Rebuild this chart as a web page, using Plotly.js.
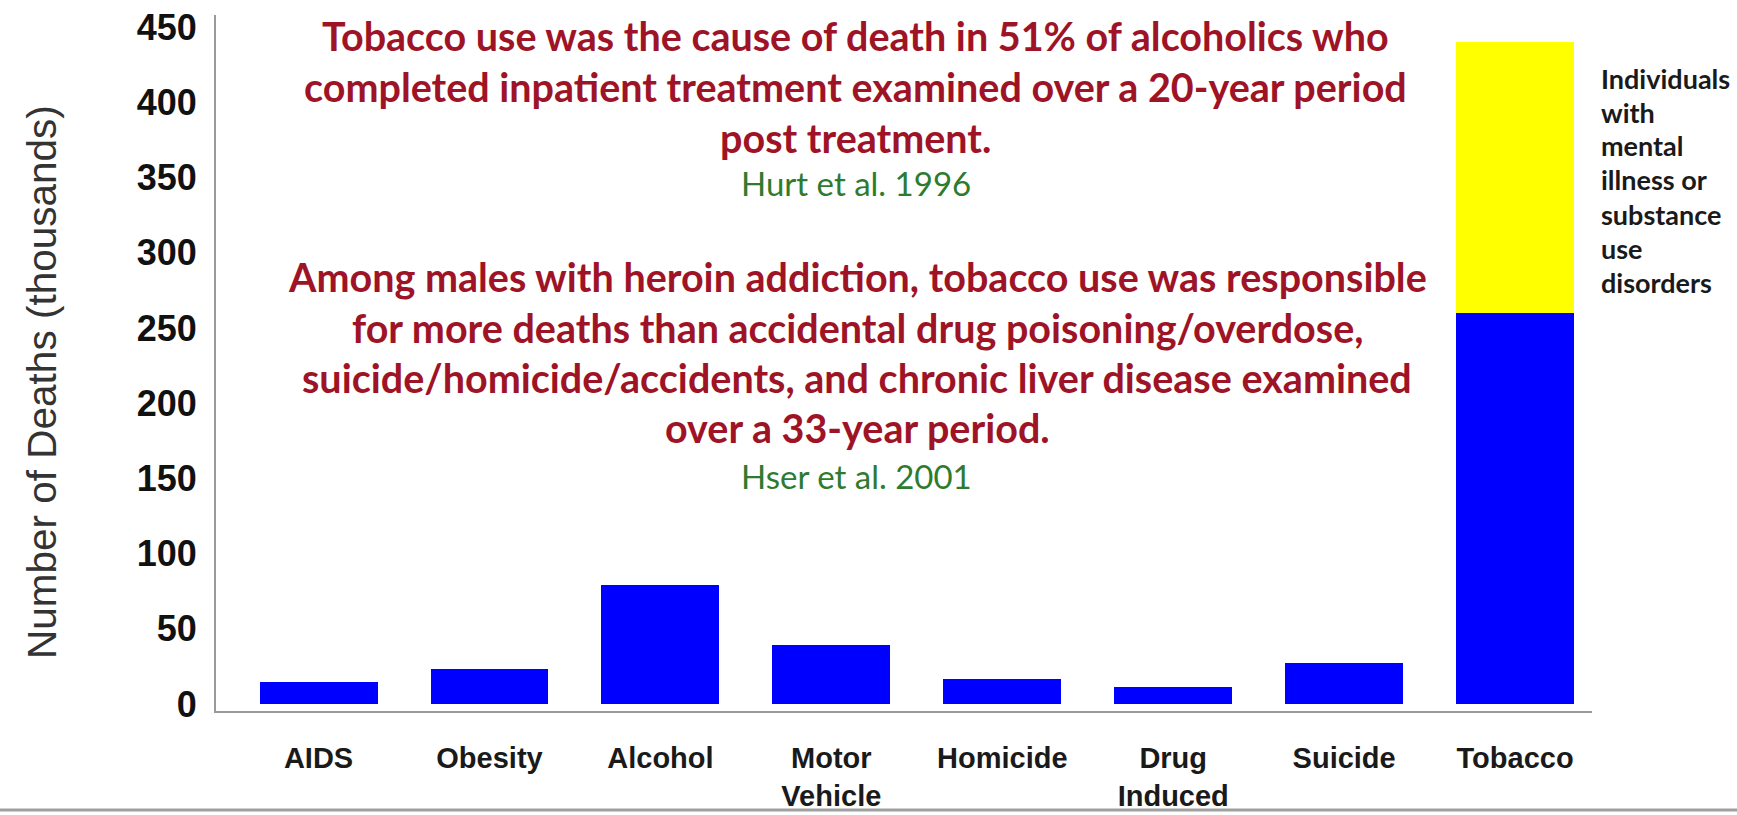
<!DOCTYPE html>
<html>
<head>
<meta charset="utf-8">
<script src="https://cdn.plot.ly/plotly-3.0.1.min.js"></script>
<style>html,body{margin:0;padding:0;background:#fff;}#chart{width:1737px;height:815px;}</style>
</head>
<body>
<div id="chart"></div>
<script>
// ---- data ----
const categories = ["AIDS", "Obesity", "Alcohol", "Motor<br>Vehicle", "Homicide", "Drug<br>Induced", "Suicide", "Tobacco"];
const deathsGeneral = [15, 23, 79, 39, 17, 11.5, 27.5, 260];
const deathsMentalIllness = [0, 0, 0, 0, 0, 0, 0, 180];
const yTickVals = [0, 50, 100, 150, 200, 250, 300, 350, 400, 450];
const yAxisTitle = "Number of Deaths (thousands)";
const note1Lines = [
  "Tobacco use was the cause of death in 51% of alcoholics who",
  "completed inpatient treatment examined over a 20-year period",
  "post treatment."
];
const note1Source = "Hurt et al. 1996";
const note2Lines = [
  "Among males with heroin addiction, tobacco use was responsible",
  "for more deaths than accidental drug poisoning/overdose,",
  "suicide/homicide/accidents, and chronic liver disease examined",
  "over a 33-year period."
];
const note2Source = "Hser et al. 2001";
const sideLabelLines = ["Individuals", "with", "mental", "illness or", "substance", "use", "disorders"];

// ---- layout helpers (pixel -> paper) ----
const W = 1737, H = 815;
const M = {l: 216, r: 145, t: 15, b: 104};
const PW = W - M.l - M.r, PH = H - M.t - M.b;
const px = x => (x - M.l) / PW;
const py = y => (H - M.b - y) / PH;

const red = "#9E1426", green = "#2E7B2E";
const annotations = [];
const note1Y = [35, 86, 137];
note1Lines.forEach((t, i) => annotations.push({text: t, x: px(855), y: py(note1Y[i])}));
annotations.push({text: note1Source, x: px(856), y: py(183), src: true});
const note2Y = [277, 327, 377, 427];
note2Lines.forEach((t, i) => annotations.push({text: t, x: px(857), y: py(note2Y[i])}));
annotations.push({text: note2Source, x: px(856), y: py(476), src: true});
annotations.forEach(a => {
  a.xref = "paper"; a.yref = "paper"; a.showarrow = false;
  a.xanchor = "center"; a.yanchor = "middle";
  a.font = a.src ? {family: "Lato", size: 33, color: green} : {family: "Lato", size: 39.5, color: red, weight: "bold"};
  delete a.src;
});
const sideY = [78, 112, 146, 180, 214, 248, 282];
sideLabelLines.forEach((t, i) => annotations.push({
  text: t, xref: "paper", yref: "paper", x: px(1599), y: py(sideY[i]),
  xanchor: "left", yanchor: "middle", showarrow: false,
  font: {family: "Lato", size: 27, color: "#1a1a1a", weight: "bold"}
}));
annotations.push({
  text: yAxisTitle, xref: "paper", yref: "paper", x: px(42), y: py(382),
  xanchor: "center", yanchor: "middle", showarrow: false, textangle: -90,
  font: {family: "Liberation Sans", size: 40.5, color: "#333333"}
});

const traces = [
  {type: "bar", x: categories, y: deathsGeneral, marker: {color: "#0000FF"}, width: 0.69, hoverinfo: "skip"},
  {type: "bar", x: categories, y: deathsMentalIllness, marker: {color: "#FFFF00"}, width: 0.69, hoverinfo: "skip"}
];

const layout = {
  width: W, height: H,
  margin: M,
  paper_bgcolor: "#ffffff", plot_bgcolor: "#ffffff",
  barmode: "stack",
  showlegend: false,
  xaxis: {
    type: "category", range: [-0.6, 7.45],
    showline: true, linecolor: "#9a9a9a", linewidth: 2,
    showgrid: false, zeroline: false, ticks: "",
    ticklabelstandoff: 20,
    tickfont: {family: "Liberation Sans", size: 29, color: "#1a1a1a", weight: "bold"}
  },
  yaxis: {
    range: [-4.6, 458],
    tickvals: yTickVals,
    showline: true, linecolor: "#9a9a9a", linewidth: 2,
    showgrid: false, zeroline: false, ticks: "",
    ticklabelstandoff: 10,
    tickfont: {family: "Liberation Sans", size: 36, color: "#111111", weight: "bold"}
  },
  annotations: annotations,
  shapes: [{
    type: "line", xref: "paper", yref: "paper",
    x0: px(0), x1: px(W), y0: py(810), y1: py(810),
    line: {color: "#a0a0a0", width: 3}
  }]
};

Plotly.newPlot("chart", traces, layout, {staticPlot: true, displayModeBar: false});
</script>
</body>
</html>
